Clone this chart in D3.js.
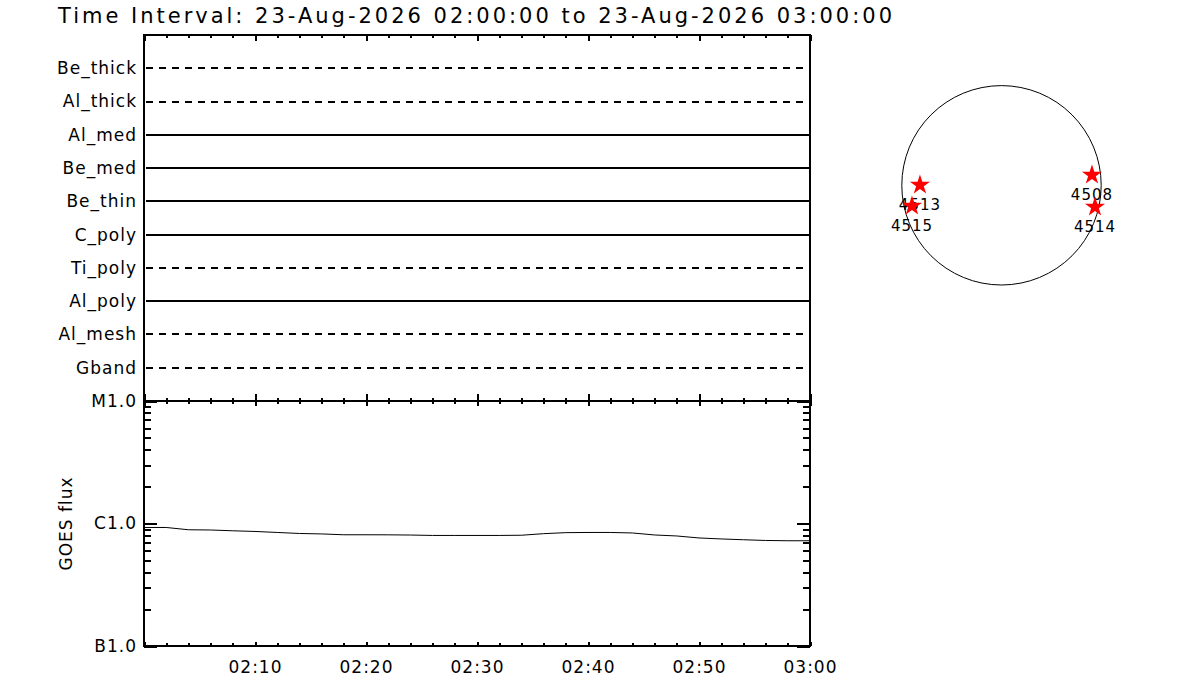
<!DOCTYPE html>
<html lang="en">
<head>
<meta charset="UTF-8">
<title>Time Interval</title>
<style>
  body { margin: 0; background: #fff; }
  svg { display: block; font-family: "DejaVu Sans", sans-serif; }
  .axis path, .axis line { stroke: #000; stroke-width: 2px; shape-rendering: crispEdges; }
  .axis path { fill: none; }
  .axis text { fill: #000; font-family: "DejaVu Sans", sans-serif; letter-spacing: 1px; }
</style>
<script src="https://cdn.jsdelivr.net/npm/d3@7"></script>
</head>
<body>
<svg width="1200" height="700"></svg>
<script>
const titleText = "Time Interval: 23-Aug-2026 02:00:00 to 23-Aug-2026 03:00:00";
const timeStart = new Date("2026-08-23T02:00:00Z");
const timeEnd = new Date("2026-08-23T03:00:00Z");

// filter channels, top to bottom; dashed = no data in interval
const channels = ["Be_thick", "Al_thick", "Al_med", "Be_med", "Be_thin", "C_poly", "Ti_poly", "Al_poly", "Al_mesh", "Gband"];
const channelHasData = [false, false, true, true, true, true, false, true, false, false];

// GOES long channel, minutes after 02:00 and flux (W/m^2)
const goesMinutes = [0, 2, 4, 6, 8, 10, 12, 14, 16, 18, 20, 22, 24, 26, 28, 30,
                     32, 34, 36, 38, 40, 42, 44, 46, 48, 50, 52, 54, 56, 58, 60];
const goesFlux = [9.28e-7, 9.28e-7, 8.89e-7, 8.85e-7, 8.72e-7, 8.61e-7, 8.45e-7, 8.29e-7,
                  8.22e-7, 8.09e-7, 8.09e-7, 8.08e-7, 8.05e-7, 7.99e-7, 7.99e-7, 7.99e-7,
                  7.99e-7, 8.02e-7, 8.26e-7, 8.42e-7, 8.45e-7, 8.45e-7, 8.37e-7, 8.06e-7,
                  7.91e-7, 7.62e-7, 7.48e-7, 7.37e-7, 7.27e-7, 7.23e-7, 7.23e-7];

const goesTickValues = [1e-7, 1e-6, 1e-5];
const goesTickLabels = ["B1.0", "C1.0", "M1.0"];

// active regions, solar x/y in arcsec
const regions = ["4513", "4515", "4508", "4514"];
const regionX = [-777, -853, 862, 891];
const regionY = [3, -197, 98, -207];
const solarRadius = 950;

const svg = d3.select("svg");

const left = 144, right = 810;
const upperTop = 35, upperBottom = 401, lowerBottom = 646;

// title
svg.append("text")
    .attr("x", 58)
    .attr("y", 23)
    .attr("font-size", 21)
    .attr("textLength", 834)
    .attr("lengthAdjust", "spacing")
    .text(titleText);

const x = d3.scaleUtc().domain([timeStart, timeEnd]).range([left, right]);
const majorTimes = x.ticks(d3.utcMinute.every(10));
const minorTimes = x.ticks(d3.utcMinute.every(2)).filter(d => d.getUTCMinutes() % 10 !== 0);

function timeTicks(g, axisFn, y, majorSize, minorSize) {
    g.append("g")
        .attr("class", "axis")
        .attr("transform", `translate(0,${y})`)
        .call(axisFn(x).tickValues(minorTimes).tickSize(minorSize).tickSizeOuter(0).tickFormat(""))
        .call(a => a.select(".domain").remove());
    g.append("g")
        .attr("class", "axis")
        .attr("transform", `translate(0,${y})`)
        .call(axisFn(x).tickValues(majorTimes).tickSize(majorSize).tickSizeOuter(0).tickFormat(""))
        .call(a => a.select(".domain").remove());
}

// ---- upper panel: filter channels
const ch = d3.scalePoint().domain(channels).range([upperTop, upperBottom]).padding(1);

svg.append("g")
    .selectAll("line")
    .data(channels)
    .join("line")
    .attr("x1", left + 2)
    .attr("x2", right)
    .attr("y1", d => ch(d))
    .attr("y2", d => ch(d))
    .attr("stroke", "#000")
    .attr("stroke-width", 2)
    .attr("shape-rendering", "crispEdges")
    .attr("stroke-dasharray", (d, i) => channelHasData[i] ? null : "7,6");

svg.append("g")
    .attr("class", "axis")
    .attr("transform", `translate(${left},0)`)
    .call(d3.axisLeft(ch).tickSize(0).tickPadding(7))
    .call(a => a.select(".domain").remove())
    .selectAll("text")
    .attr("font-size", 17);

timeTicks(svg, d3.axisBottom, upperTop, 6, 3);
timeTicks(svg, d3.axisTop, upperBottom, 7, 3);

svg.append("rect")
    .attr("x", left).attr("y", upperTop)
    .attr("width", right - left).attr("height", upperBottom - upperTop)
    .attr("fill", "none").attr("stroke", "#000").attr("stroke-width", 2)
    .attr("shape-rendering", "crispEdges");

// ---- lower panel: GOES flux
const y = d3.scaleLog().domain([1e-7, 1e-5]).range([lowerBottom, upperBottom]);
const minorFlux = y.ticks().filter(v => !goesTickValues.some(t => Math.abs(t - v) < t * 1e-6));

function fluxTicks(axisFn, xPos) {
    svg.append("g")
        .attr("class", "axis")
        .attr("transform", `translate(${xPos},0)`)
        .call(axisFn(y).tickValues(minorFlux).tickSize(7).tickSizeOuter(0).tickFormat(""))
        .call(a => a.select(".domain").remove());
    svg.append("g")
        .attr("class", "axis")
        .attr("transform", `translate(${xPos},0)`)
        .call(axisFn(y).tickValues(goesTickValues).tickSize(13).tickSizeOuter(0).tickFormat(""))
        .call(a => a.select(".domain").remove());
}
fluxTicks(d3.axisRight, left);
fluxTicks(d3.axisLeft, right);

svg.append("g")
    .attr("class", "axis")
    .attr("transform", `translate(${left},0)`)
    .call(d3.axisLeft(y).tickValues(goesTickValues).tickSize(0).tickPadding(7)
        .tickFormat((d, i) => goesTickLabels[i]))
    .call(a => a.select(".domain").remove())
    .selectAll("text")
    .attr("font-size", 17);

svg.append("text")
    .attr("transform", `translate(72,${(upperBottom + lowerBottom) / 2}) rotate(-90)`)
    .attr("text-anchor", "middle")
    .attr("font-size", 17)
    .attr("letter-spacing", 1)
    .text("GOES flux");

timeTicks(svg, d3.axisBottom, upperBottom, 5, 3);

svg.append("g")
    .attr("class", "axis")
    .attr("transform", `translate(0,${lowerBottom})`)
    .call(d3.axisBottom(x).tickValues(minorTimes).tickSize(-3).tickSizeOuter(0).tickFormat(""))
    .call(a => a.select(".domain").remove());
svg.append("g")
    .attr("class", "axis")
    .attr("transform", `translate(0,${lowerBottom})`)
    .call(d3.axisBottom(x).tickValues(majorTimes).tickSize(-4).tickSizeOuter(0).tickPadding(15)
        .tickFormat(d => +d === +timeStart ? "" : d3.utcFormat("%H:%M")(d)))
    .call(a => a.select(".domain").remove())
    .selectAll("text")
    .attr("font-size", 17)
    .attr("letter-spacing", 2);

const goesLine = d3.line()
    .x((d, i) => x(d3.utcMinute.offset(timeStart, goesMinutes[i])))
    .y(d => y(d));

svg.append("path")
    .datum(goesFlux)
    .attr("d", goesLine)
    .attr("fill", "none")
    .attr("stroke", "#000")
    .attr("stroke-width", 1);

svg.append("rect")
    .attr("x", left).attr("y", upperBottom)
    .attr("width", right - left).attr("height", lowerBottom - upperBottom)
    .attr("fill", "none").attr("stroke", "#000").attr("stroke-width", 2)
    .attr("shape-rendering", "crispEdges");

// ---- solar disk with active regions
const diskCx = 1001.5, diskCy = 185.3, diskR = 99.7;
const sx = d3.scaleLinear().domain([-solarRadius, solarRadius]).range([diskCx - diskR, diskCx + diskR]);
const sy = d3.scaleLinear().domain([-solarRadius, solarRadius]).range([diskCy + diskR, diskCy - diskR]);

svg.append("circle")
    .attr("cx", sx(0))
    .attr("cy", sy(0))
    .attr("r", sx(solarRadius) - sx(0))
    .attr("fill", "none")
    .attr("stroke", "#000")
    .attr("stroke-width", 1);

const star = d3.symbol().type(d3.symbolStar).size(125);

regions.forEach((name, i) => {
    const px = sx(regionX[i]), py = sy(regionY[i]);
    svg.append("path")
        .attr("d", star)
        .attr("transform", `translate(${px},${py})`)
        .attr("fill", "#ff0000");
    svg.append("text")
        .attr("x", px)
        .attr("y", py + 25)
        .attr("text-anchor", "middle")
        .attr("font-size", 15)
        .attr("letter-spacing", 1)
        .text(name);
});
</script>
</body>
</html>
